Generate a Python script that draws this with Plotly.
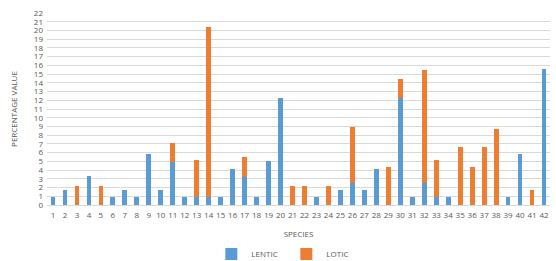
import plotly.graph_objects as go

species = [str(i) for i in range(1, 43)]
lentic = [0.9, 1.7, 0, 3.3, 0, 0.9, 1.7, 0.9, 5.8, 1.7,
          4.9, 0.9, 0.9, 0.9, 0.9, 4.1, 3.2, 0.9, 5.0, 12.3,
          0, 0, 0.9, 0, 1.7, 2.5, 1.7, 4.1, 0, 12.3,
          0.9, 2.5, 0.9, 0.9, 0, 0, 0, 0, 0.9, 5.8,
          0, 15.6]
lotic = [0, 0, 2.2, 0, 2.2, 0, 0, 0, 0, 0,
         2.2, 0, 4.3, 19.5, 0, 0, 2.3, 0, 0, 0,
         2.2, 2.2, 0, 2.2, 0, 6.4, 0, 0, 4.3, 2.1,
         0, 13.0, 4.3, 0, 6.6, 4.3, 6.6, 8.7, 0, 0,
         1.7, 0]
yticks = list(range(0, 23))

grey = "#595959"
fam = "Open Sans, Liberation Sans, sans-serif"

fig = go.Figure()
fig.add_trace(go.Bar(x=species, y=lentic, name="LENTIC", marker=dict(color="#5b9bd5", line=dict(width=0))))
fig.add_trace(go.Bar(x=species, y=lotic, name="LOTIC", marker=dict(color="#ed7d31", line=dict(width=0))))

fig.update_layout(
    barmode="stack",
    bargap=0.6,
    width=556, height=261,
    margin=dict(l=47, r=6, t=13, b=56, autoexpand=False),
    plot_bgcolor="white", paper_bgcolor="white",
    font=dict(family=fam, size=8, color=grey),
    showlegend=True,
    legend=dict(orientation="h", xref="container", x=0.515, xanchor="center",
                yref="container", y=0.027, yanchor="middle",
                traceorder="normal", font=dict(size=8, color=grey),
                itemwidth=30, entrywidth=30),
    xaxis=dict(type="category", automargin=False,
               title=dict(text="SPECIES", font=dict(size=8, color=grey)),
               tickfont=dict(size=8, color=grey), showgrid=False, ticks="",
               ticklabelstandoff=2,
               showline=True, linecolor="#d9d9d9", tickangle=0),
    yaxis=dict(automargin=False,
               title=dict(text="PERCENTAGE VALUE", font=dict(size=8, color=grey)),
               range=[0, 22], tickvals=yticks, tickfont=dict(size=8, color=grey),
               ticklabelstandoff=3,
               showgrid=True, gridcolor="#d9d9d9", gridwidth=1, zeroline=False, ticks=""),
)

fig.write_html("out.html", config={"displayModeBar": False},
               post_script="document.body.style.margin='0';document.body.style.padding='0';")
